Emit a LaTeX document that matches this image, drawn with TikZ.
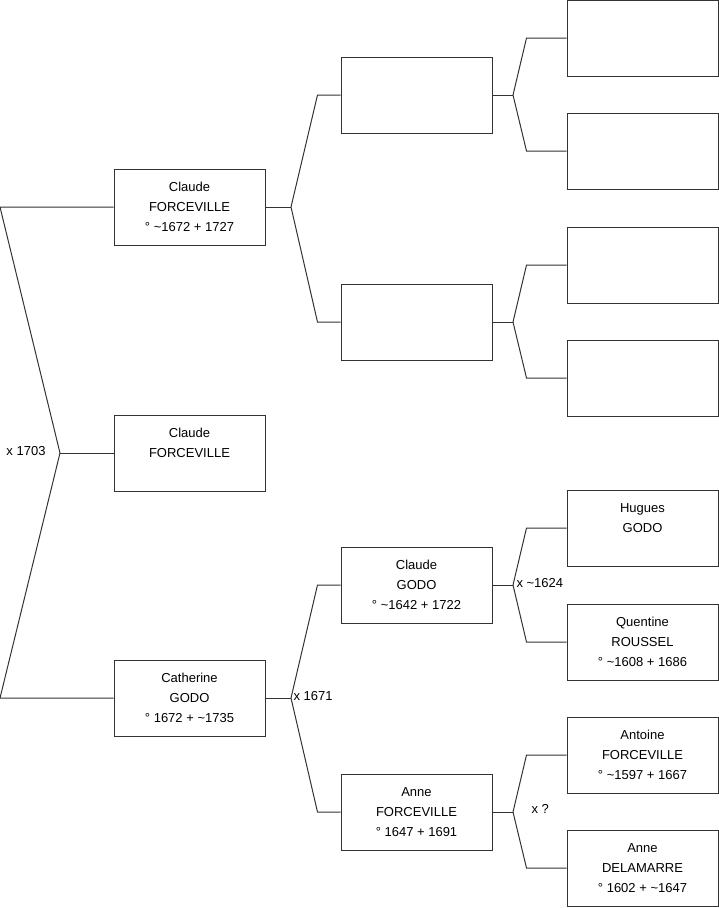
\documentclass[tikz,border=0pt]{standalone}
\usepackage{fontspec}
\setmainfont{Liberation Sans}

\begin{document}
\begin{tikzpicture}[x=1pt, y=-1pt, line width=1pt,
  person/.style={draw=black!80, fill=white, minimum width=151pt, minimum height=76pt,
    inner sep=0pt, align=center, font=\fontsize{13}{20}\selectfont},
  lien/.style={draw=black!80},
  mariage/.style={font=\fontsize{13}{16}\selectfont, inner sep=2pt}]
  \useasboundingbox (0,0) rectangle (719,908);

  % generation 1
  \node[person] (s2) at (189.5,207) {Claude\\FORCEVILLE\\° \textasciitilde1672 + 1727};
  \node[person] (s1) at (189.5,453) {Claude\\FORCEVILLE\\\mbox{}};
  \node[person] (s3) at (189.5,698) {Catherine\\GODO\\° 1672 + \textasciitilde1735};

  % generation 2
  \node[person] (s4) at (416.5,95) {};
  \node[person] (s5) at (416.5,322) {};
  \node[person] (s6) at (416.5,585) {Claude\\GODO\\° \textasciitilde1642 + 1722};
  \node[person] (s7) at (416.5,812) {Anne\\FORCEVILLE\\° 1647 + 1691};

  % generation 3
  \node[person] (s8) at (642.5,38) {};
  \node[person] (s9) at (642.5,151) {};
  \node[person] (s10) at (642.5,265) {};
  \node[person] (s11) at (642.5,378) {};
  \node[person] (s12) at (642.5,528) {Hugues\\GODO\\\mbox{}};
  \node[person] (s13) at (642.5,642) {Quentine\\ROUSSEL\\° \textasciitilde1608 + 1686};
  \node[person] (s14) at (642.5,755) {Antoine\\FORCEVILLE\\° \textasciitilde1597 + 1667};
  \node[person] (s15) at (642.5,868) {Anne\\DELAMARRE\\° 1602 + \textasciitilde1647};

  % fourches
  \coordinate (f1) at (60,453);
  \coordinate (b2) at (0,207);
  \coordinate (b3) at (0,698);
  \coordinate (f2) at (291,207);
  \coordinate (f3) at (291,698);
  \coordinate (f4) at (513,95);
  \coordinate (f5) at (513,322);
  \coordinate (f6) at (513,585);
  \coordinate (f7) at (513,812);

  % liens
  \draw[lien] (s2.west) -- (b2) -- (f1) -- (b3) -- (s3.west);
  \draw[lien] (f1) -- (s1.west);

  \draw[lien] (s2.east) -- (f2);
  \draw[lien] (f2) -- ([xshift=-23pt]s4.west) -- (s4.west);
  \draw[lien] (f2) -- ([xshift=-23pt]s5.west) -- (s5.west);
  \draw[lien] (s3.east) -- (f3);
  \draw[lien] (f3) -- ([xshift=-23pt]s6.west) -- (s6.west);
  \draw[lien] (f3) -- ([xshift=-23pt]s7.west) -- (s7.west);

  \draw[lien] (s4.east) -- (f4);
  \draw[lien] (f4) -- ([xshift=-40pt]s8.west) -- (s8.west);
  \draw[lien] (f4) -- ([xshift=-40pt]s9.west) -- (s9.west);
  \draw[lien] (s5.east) -- (f5);
  \draw[lien] (f5) -- ([xshift=-40pt]s10.west) -- (s10.west);
  \draw[lien] (f5) -- ([xshift=-40pt]s11.west) -- (s11.west);
  \draw[lien] (s6.east) -- (f6);
  \draw[lien] (f6) -- ([xshift=-40pt]s12.west) -- (s12.west);
  \draw[lien] (f6) -- ([xshift=-40pt]s13.west) -- (s13.west);
  \draw[lien] (s7.east) -- (f7);
  \draw[lien] (f7) -- ([xshift=-40pt]s14.west) -- (s14.west);
  \draw[lien] (f7) -- ([xshift=-40pt]s15.west) -- (s15.west);

  % mariages
  \node[mariage, anchor=east] (m1) at (48,451) {x 1703};
  \node[mariage, anchor=west] (m3) at (291,696) {x 1671};
  \node[mariage, anchor=west] (m6) at (514,583) {x \textasciitilde1624};
  \node[mariage, anchor=west] (m7) at (529,809) {x ?};
\end{tikzpicture}
\end{document}
